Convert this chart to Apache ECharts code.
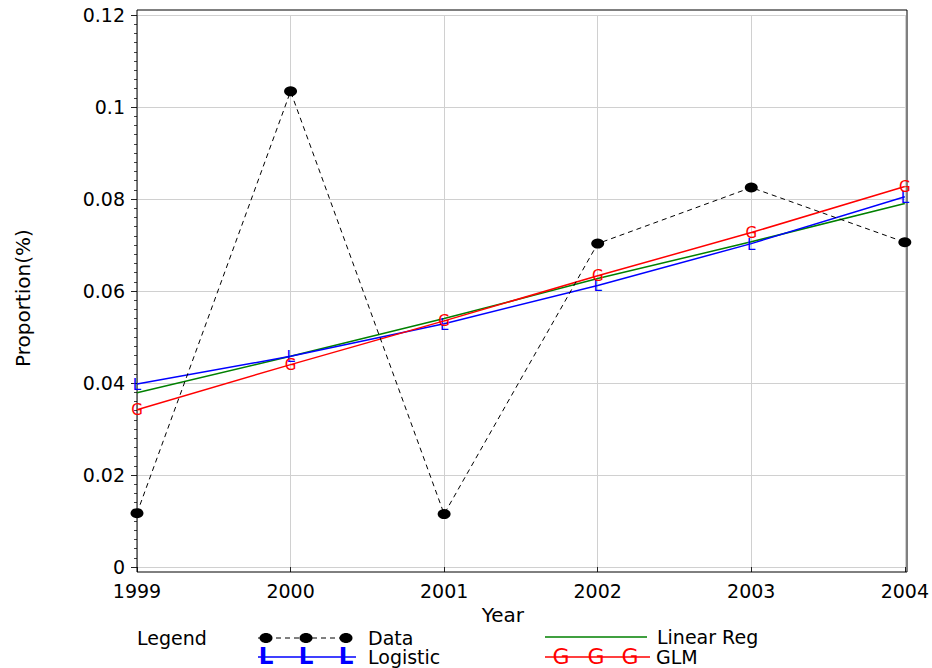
<!DOCTYPE html>
<html>
<head>
<meta charset="utf-8">
<script src="https://cdn.jsdelivr.net/npm/echarts@6/dist/echarts.min.js"></script>
<style>
html, body { margin: 0; padding: 0; background: #fff; }
#main { width: 932px; height: 668px; }
</style>
</head>
<body>
<div id="main"></div>
<script>
// values
var years = ['1999', '2000', '2001', '2002', '2003', '2004'];
var dataObs = [0.0117, 0.1034, 0.0115, 0.0703, 0.0825, 0.0706];
var logistic = [0.0398, 0.0458, 0.0529, 0.0612, 0.0703, 0.0805];
var linearReg = [0.0379, 0.0458, 0.0540, 0.0627, 0.0707, 0.0790];
var glm = [0.0342, 0.0440, 0.0535, 0.0633, 0.0727, 0.0827];
var yTicks = [0, 0.02, 0.04, 0.06, 0.08, 0.1, 0.12];

var FONT = 'DejaVu Sans';
var BLUE = '#0000ff', RED = '#ff0000', GREEN = '#008000';

var chartDom = document.getElementById('main');
var myChart = echarts.init(chartDom, null, { renderer: 'svg' });

// hand-made legend (three markers per entry like the original)
function legendGraphic() {
    var els = [];
    var xs = [266, 306, 346];
    els.push({ type: 'text', left: 137, top: 628, style: { text: 'Legend', font: '19px ' + FONT, fill: '#000' } });
    // Data
    els.push({ type: 'line', shape: { x1: 258, y1: 638, x2: 352, y2: 638 }, style: { stroke: '#000', lineWidth: 1, lineDash: [5, 4] } });
    xs.forEach(function (x) {
        els.push({ type: 'ellipse', shape: { cx: x, cy: 638, rx: 6.5, ry: 5 }, style: { fill: '#000' } });
    });
    els.push({ type: 'text', left: 368, top: 628, style: { text: 'Data', font: '19px ' + FONT, fill: '#000' } });
    // Logistic
    els.push({ type: 'line', shape: { x1: 258, y1: 657, x2: 356, y2: 657 }, style: { stroke: BLUE, lineWidth: 1.5 } });
    xs.forEach(function (x) {
        els.push({ type: 'text', x: x, y: 656, style: { text: 'L', font: 'bold 23px ' + FONT, fill: BLUE, align: 'center', verticalAlign: 'middle' } });
    });
    els.push({ type: 'text', left: 368, top: 647, style: { text: 'Logistic', font: '19px ' + FONT, fill: '#000' } });
    // Linear Reg
    els.push({ type: 'line', shape: { x1: 545, y1: 637, x2: 647, y2: 637 }, style: { stroke: GREEN, lineWidth: 1.5 } });
    els.push({ type: 'text', left: 657, top: 627, style: { text: 'Linear Reg', font: '19px ' + FONT, fill: '#000' } });
    // GLM
    els.push({ type: 'line', shape: { x1: 545, y1: 657, x2: 650, y2: 657 }, style: { stroke: RED, lineWidth: 1.5 } });
    [561, 596, 630].forEach(function (x) {
        els.push({ type: 'text', x: x, y: 656, style: { text: 'G', font: '22px ' + FONT, fill: RED, align: 'center', verticalAlign: 'middle' } });
    });
    els.push({ type: 'text', left: 656, top: 647, style: { text: 'GLM', font: '19px ' + FONT, fill: '#000' } });
    return els;
}

var option = {
    animation: false,
    textStyle: { fontFamily: FONT },
    grid: [
        { left: 137, right: 25, top: 15, bottom: 101 },
        // outer frame of the plot
        { left: 137, right: 25, top: 10, bottom: 96, show: true, borderColor: '#000', borderWidth: 1, backgroundColor: 'transparent', z: 1 }
    ],
    xAxis: [
        {
            type: 'category',
            data: years,
            boundaryGap: false,
            offset: 5,
            name: 'Year',
            nameLocation: 'middle',
            nameGap: 31,
            nameTextStyle: { fontSize: 20, color: '#000', padding: [0, 36, 0, 0] },
            axisLine: { show: false },
            axisTick: { show: true, length: 5, lineStyle: { color: '#222' } },
            axisLabel: { fontSize: 19, color: '#000', margin: 9 },
            splitLine: { show: true, lineStyle: { color: '#d0d0d0', width: 1 } }
        },
        { gridIndex: 1, type: 'value', show: false }
    ],
    yAxis: [
        {
            type: 'value',
            min: yTicks[0],
            max: yTicks[yTicks.length - 1],
            interval: yTicks[1] - yTicks[0],
            name: 'Proportion(%)',
            nameLocation: 'middle',
            nameGap: 104,
            nameTextStyle: { fontSize: 20, color: '#000', padding: [0, 14, 0, 0] },
            axisLine: { show: false },
            axisTick: { show: true, length: 6, lineStyle: { color: '#222' } },
            minorTick: { show: true, splitNumber: 10, length: 3, lineStyle: { color: '#444' } },
            axisLabel: { fontSize: 19, color: '#000', margin: 12 },
            splitLine: { show: true, lineStyle: { color: '#d0d0d0', width: 1 } }
        },
        { gridIndex: 1, type: 'value', show: false }
    ],
    graphic: legendGraphic(),
    series: [
        {
            name: 'Linear Reg',
            type: 'line',
            data: linearReg,
            symbol: 'none',
            lineStyle: { color: GREEN, width: 1.5 },
            itemStyle: { color: GREEN },
            emphasis: { disabled: true },
            z: 2
        },
        {
            name: 'Logistic',
            type: 'line',
            data: logistic,
            symbol: 'circle',
            symbolSize: 2,
            lineStyle: { color: BLUE, width: 1.5 },
            itemStyle: { color: 'rgba(0,0,0,0)' },
            label: { show: true, formatter: 'L', position: 'inside', offset: [0, 1], color: BLUE, fontSize: 15 },
            emphasis: { disabled: true },
            z: 3
        },
        {
            name: 'GLM',
            type: 'line',
            data: glm,
            symbol: 'circle',
            symbolSize: 2,
            lineStyle: { color: RED, width: 1.5 },
            itemStyle: { color: 'rgba(0,0,0,0)' },
            label: { show: true, formatter: 'G', position: 'inside', color: RED, fontSize: 15 },
            emphasis: { disabled: true },
            z: 4
        },
        {
            name: 'Data',
            type: 'line',
            data: dataObs,
            symbol: 'circle',
            symbolSize: [13, 10],
            lineStyle: { color: '#000', width: 1, type: [5, 4] },
            itemStyle: { color: '#000' },
            emphasis: { disabled: true },
            z: 5
        }
    ]
};

if (option && typeof option === 'object') {
    myChart.setOption(option);
}

window.addEventListener('resize', myChart.resize);
</script>
</body>
</html>
